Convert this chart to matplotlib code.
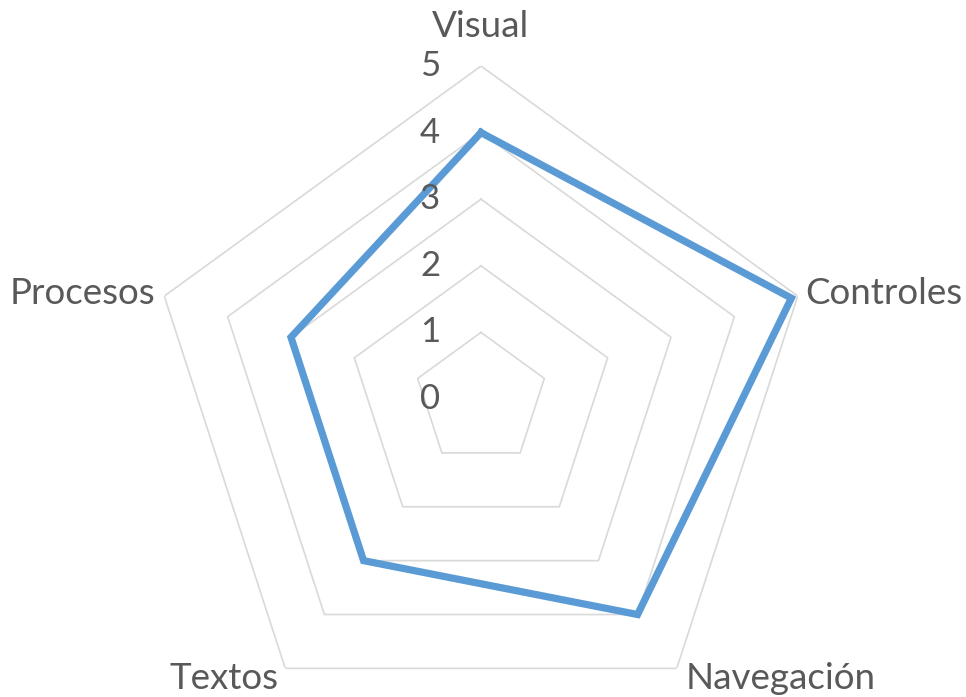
import numpy as np
import matplotlib
matplotlib.use("Agg")
import matplotlib.pyplot as plt

categories = ["Visual", "Controles", "Navegación", "Textos", "Procesos"]
values = [4, 4.9, 4, 3, 3]
levels = [0, 1, 2, 3, 4, 5]

# label offsets in pixels from the outer vertex, plus alignment
label_offsets = [(0, 39), (8, 3), (9, -10), (-7, -10), (-9, 3)]
label_align = ["center", "left", "left", "right", "right"]

plt.rcParams['font.family'] = ['Lato', 'DejaVu Sans']

fig = plt.figure(figsize=(9.66, 6.97), dpi=100)
W, H = 966, 697
cx, cy, R = 481, 399, 333
ax = fig.add_axes([(cx - R) / W, (H - cy - R) / H, 2 * R / W, 2 * R / H],
                  projection='polar')
ax.set_theta_offset(np.pi / 2)
ax.set_theta_direction(-1)
ax.set_ylim(0, 5)
ax.grid(False)
ax.spines['polar'].set_visible(False)
ax.set_xticks([])
ax.set_yticks([])
ax.patch.set_visible(False)

n = len(categories)
angles = np.linspace(0, 2 * np.pi, n, endpoint=False)
closed = np.concatenate([angles, angles[:1]])

grid_color = "#d9d9d9"
text_color = "#595959"

for lv in levels[1:]:
    ax.plot(closed, [lv] * (n + 1), color=grid_color, lw=1.2, zorder=1)

ax.plot(closed, values + values[:1], color="#5b9bd5", lw=5.2, zorder=3,
        solid_joinstyle='miter')

for lv in levels:
    ax.annotate(str(lv), xy=(0, lv), xytext=(-41, 0), textcoords='offset pixels',
                ha='right', va='center', fontsize=25, color=text_color)

for ang, cat, off, al in zip(angles, categories, label_offsets, label_align):
    ax.annotate(cat, xy=(ang, 5), xytext=off, textcoords='offset pixels',
                ha=al, va='center', fontsize=26.5, color=text_color,
                annotation_clip=False)

fig.savefig("out.png", dpi=100)
